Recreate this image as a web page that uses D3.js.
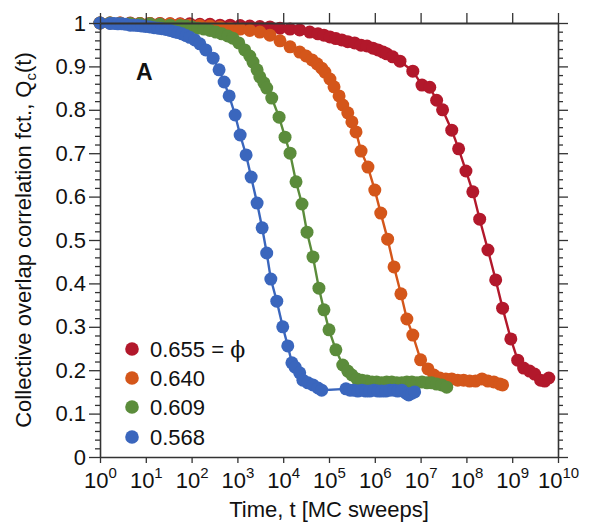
<!DOCTYPE html>
<html><head><meta charset="utf-8">
<script src="https://cdn.jsdelivr.net/npm/d3@7"></script>
<style>
body{margin:0;background:#fff}
svg{display:block}
text{font-family:"Liberation Sans",Arial,Helvetica,sans-serif;fill:#111}
</style>
</head><body>
<svg id="c" width="600" height="525"></svg>
<script>
// ---- data (time given as log10 of MC sweeps) ----
const seriesLabels = ["0.655", "0.640", "0.609", "0.568"];
const seriesColors = ["#b2182b", "#d4561a", "#5b8c3b", "#3a66bd"];
const yTickValues = [0, 0.1, 0.2, 0.3, 0.4, 0.5, 0.6, 0.7, 0.8, 0.9, 1];
const xTickExponents = [0, 1, 2, 3, 4, 5, 6, 7, 8, 9, 10];

const logT655 = [0,0.22,0.44,0.66,0.87,1.09,1.31,1.53,1.75,1.96,2.18,2.40,2.62,2.84,3.06,3.27,3.49,3.71,3.93,4.15,4.36,4.58,4.76,4.89,5.02,5.15,5.28,5.41,5.56,5.70,5.83,5.96,6.07,6.18,6.26,6.39,6.55,6.83,7.03,7.20,7.35,7.48,7.68,7.83,7.99,8.14,8.29,8.47,8.64,8.79,8.97,9.12,9.25,9.38,9.49,9.62,9.71,9.80];
const q655 = [1.000,1.000,1.000,1.000,0.999,0.999,0.999,0.998,0.998,0.998,0.997,0.997,0.995,0.995,0.994,0.993,0.992,0.991,0.988,0.986,0.984,0.979,0.975,0.972,0.968,0.964,0.961,0.957,0.954,0.949,0.947,0.942,0.938,0.933,0.929,0.922,0.912,0.889,0.857,0.852,0.822,0.800,0.753,0.710,0.659,0.611,0.548,0.477,0.408,0.343,0.272,0.223,0.205,0.198,0.191,0.177,0.175,0.182];

const logT640 = [0,0.22,0.44,0.66,0.87,1.09,1.31,1.53,1.75,1.96,2.18,2.40,2.62,2.84,3.06,3.27,3.49,3.71,3.93,4.15,4.36,4.50,4.63,4.74,4.84,4.91,5.02,5.11,5.22,5.30,5.41,5.50,5.59,5.70,5.85,6.00,6.13,6.28,6.42,6.57,6.70,6.83,7.00,7.16,7.29,7.42,7.55,7.68,7.81,7.94,8.07,8.20,8.34,8.47,8.60,8.73,8.79];
const q640 = [1.000,1.000,1.000,0.999,0.999,0.999,0.998,0.998,0.997,0.995,0.994,0.993,0.991,0.988,0.986,0.983,0.979,0.972,0.959,0.945,0.933,0.924,0.915,0.906,0.896,0.887,0.871,0.853,0.832,0.811,0.793,0.772,0.749,0.705,0.668,0.615,0.562,0.502,0.438,0.376,0.318,0.281,0.224,0.203,0.189,0.182,0.180,0.180,0.177,0.177,0.175,0.175,0.180,0.175,0.173,0.168,0.166];

const logT609 = [0,0.22,0.44,0.66,0.87,1.09,1.31,1.53,1.75,1.88,2.01,2.14,2.27,2.40,2.53,2.66,2.79,2.90,3.03,3.16,3.27,3.34,3.43,3.49,3.58,3.64,3.75,3.91,4.04,4.15,4.28,4.41,4.52,4.65,4.78,4.89,5.00,5.15,5.30,5.41,5.50,5.61,5.72,5.83,5.94,6.04,6.15,6.26,6.37,6.48,6.59,6.70,6.81,6.92,7.03,7.14,7.24,7.35,7.46,7.57];
const q609 = [1.000,1.000,0.999,0.999,0.998,0.998,0.997,0.995,0.994,0.993,0.991,0.988,0.986,0.983,0.979,0.975,0.970,0.965,0.954,0.938,0.924,0.910,0.892,0.876,0.862,0.850,0.827,0.783,0.737,0.700,0.634,0.583,0.518,0.461,0.389,0.339,0.293,0.247,0.212,0.198,0.189,0.180,0.177,0.175,0.173,0.173,0.171,0.173,0.173,0.171,0.171,0.173,0.173,0.171,0.173,0.171,0.171,0.168,0.166,0.161];

const logT568 = [0,0.22,0.31,0.39,0.48,0.57,0.66,0.74,0.83,0.92,1.00,1.09,1.18,1.27,1.35,1.44,1.53,1.62,1.70,1.79,1.88,1.96,2.07,2.18,2.31,2.47,2.60,2.71,2.82,2.95,3.06,3.19,3.30,3.43,3.54,3.64,3.73,3.86,3.99,4.10,4.19,4.26,4.36,4.43,4.54,4.65,4.76,4.84,5.37,5.46,5.54,5.63,5.72,5.80,5.89,5.98,6.07,6.15,6.24,6.33,6.42,6.50,6.59,6.68,6.74,6.81,6.87];
const q568 = [1.000,0.999,0.999,0.998,0.998,0.997,0.995,0.995,0.994,0.993,0.992,0.991,0.989,0.988,0.987,0.985,0.983,0.980,0.978,0.975,0.971,0.967,0.961,0.952,0.938,0.919,0.892,0.864,0.832,0.788,0.742,0.696,0.645,0.585,0.528,0.470,0.410,0.359,0.300,0.256,0.217,0.207,0.194,0.177,0.171,0.166,0.159,0.154,0.157,0.154,0.154,0.152,0.154,0.152,0.152,0.154,0.152,0.152,0.152,0.154,0.154,0.152,0.154,0.147,0.143,0.147,0.150];

const seriesLogT = [logT655, logT640, logT609, logT568];
const seriesQ = [q655, q640, q609, q568];

// ---- layout ----
const svg = d3.select("#c");
const L = 100, R = 558, T = 23, B = 457;
const x = d3.scaleLog().domain([1, 1e10]).range([L, R]);
const y = d3.scaleLinear().domain([0, 1]).range([B, T]);
const decades = xTickExponents.map(e => Math.pow(10, e));
const minorY = d3.range(0, 51).map(i => i / 50).filter(v => !yTickValues.some(t => Math.abs(t - v) < 1e-9));
const axisColor = "#333";

// ---- data marks ----
const line = d3.line().x(d => x(d[0])).y(d => y(d[1]));
seriesLogT.forEach((lt, i) => {
  const pts = lt.map((e, j) => [Math.pow(10, e), seriesQ[i][j]]);
  const g = svg.append("g");
  g.append("path").attr("d", line(pts)).attr("fill", "none")
    .attr("stroke", seriesColors[i]).attr("stroke-width", 2.4);
  g.selectAll("circle").data(pts).join("circle")
    .attr("cx", d => x(d[0])).attr("cy", d => y(d[1])).attr("r", 6.5)
    .attr("fill", seriesColors[i]);
});

// ---- axes ----
function style(g, w) {
  g.selectAll("path.domain").attr("stroke", axisColor).attr("stroke-width", w || 1.6);
  g.selectAll(".tick line").attr("stroke", axisColor).attr("stroke-width", 1.3);
}
// left
svg.append("g").attr("transform", `translate(${L},0)`)
  .call(d3.axisLeft(y).tickValues(minorY).tickSize(5).tickFormat("").tickSizeOuter(0))
  .call(g => { g.select("path.domain").remove(); style(g); });
svg.append("g").attr("transform", `translate(${L},0)`)
  .call(d3.axisLeft(y).tickValues(yTickValues).tickSize(11).tickPadding(3).tickSizeOuter(0)
    .tickFormat(d => d === 0 ? "0" : d === 1 ? "1" : d.toFixed(1)))
  .call(g => { style(g); g.selectAll("text").attr("font-size", 22).attr("fill", "#111")
    .attr("font-family", '"Liberation Sans",Arial,sans-serif'); });
// right
svg.append("g").attr("transform", `translate(${R},0)`)
  .call(d3.axisRight(y).tickValues(minorY).tickSize(5).tickFormat("").tickSizeOuter(0))
  .call(g => { g.select("path.domain").remove(); style(g); });
svg.append("g").attr("transform", `translate(${R},0)`)
  .call(d3.axisRight(y).tickValues(yTickValues).tickSize(10).tickFormat("").tickSizeOuter(0))
  .call(g => style(g));
// top
svg.append("g").attr("transform", `translate(0,${T})`)
  .call(d3.axisTop(x).tickValues(decades).tickSize(10).tickFormat("").tickSizeOuter(0))
  .call(g => style(g, 2));
// bottom
const bx = svg.append("g").attr("transform", `translate(0,${B})`)
  .call(d3.axisBottom(x).tickValues(decades).tickSize(6).tickFormat("").tickSizeOuter(0))
  .call(g => style(g));
bx.selectAll(".tick").each(function(d, i) {
  const t = d3.select(this).append("text").attr("y", 31).attr("text-anchor", "middle")
    .attr("font-size", 22).attr("fill", "#111")
    .attr("font-family", '"Liberation Sans",Arial,sans-serif');
  t.append("tspan").text("10");
  t.append("tspan").attr("dy", -10).attr("font-size", 15).text(String(xTickExponents[i]));
});

// ---- titles ----
svg.append("text").attr("x", (L + R) / 2).attr("y", 517).attr("text-anchor", "middle")
  .attr("font-size", 22).text("Time, t [MC sweeps]");
const yt = svg.append("text").attr("transform", `translate(31,${(T + B) / 2}) rotate(-90)`)
  .attr("text-anchor", "middle").attr("font-size", 22);
yt.append("tspan").text("Collective overlap correlation fct., Q");
yt.append("tspan").attr("font-size", 15).attr("dy", 5).text("c");
yt.append("tspan").attr("dy", -5).text("(t)");

svg.append("text").attr("x", 136).attr("y", 80).attr("font-size", 23)
  .attr("font-weight", "bold").text("A");

// ---- legend ----
const legY = [349, 378, 407, 437];
seriesLabels.forEach((lab, i) => {
  svg.append("circle").attr("cx", 132).attr("cy", legY[i]).attr("r", 6.8).attr("fill", seriesColors[i]);
  const t = svg.append("text").attr("x", 150).attr("y", legY[i] + 8).attr("font-size", 22);
  t.append("tspan").text(lab);
  if (i === 0) {
    t.append("tspan").text(" = ");
    t.append("tspan").attr("font-family", '"DejaVu Serif","Liberation Serif",serif').text("\u03D5");
  }
});
</script>
</body></html>
